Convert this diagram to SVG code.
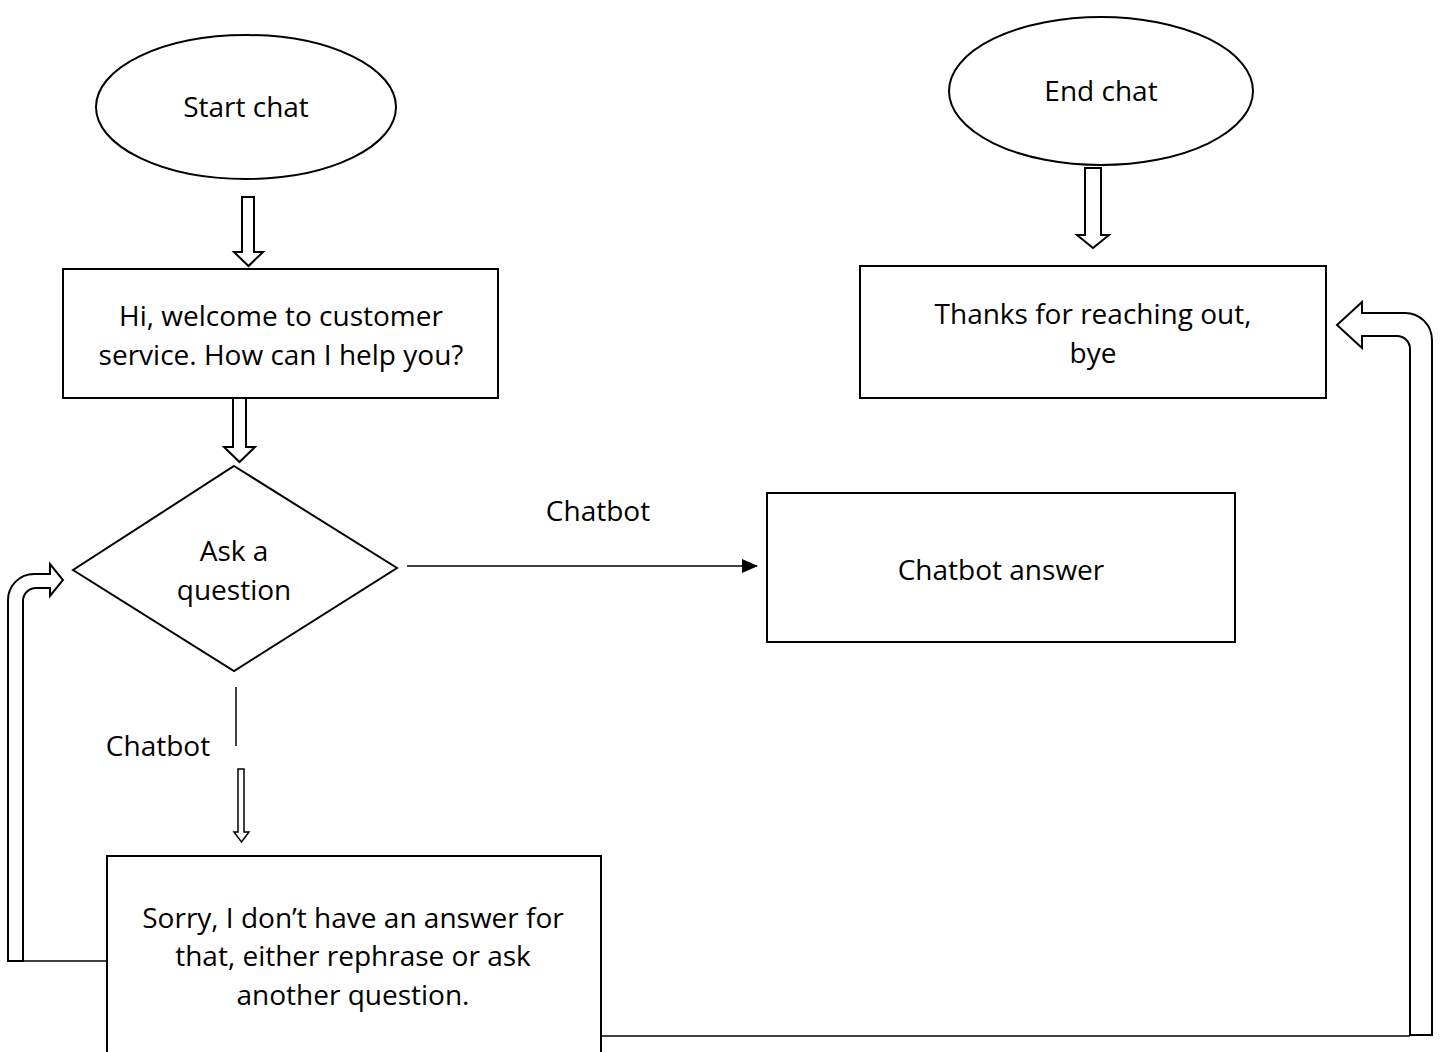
<svg xmlns="http://www.w3.org/2000/svg" width="1441" height="1052" viewBox="0 0 1441 1052">
  <style>
    .shape { fill: #ffffff; stroke: #000000; stroke-width: 2; }
    .block { fill: #ffffff; stroke: #000000; stroke-width: 2; stroke-linejoin: miter; }
    .line { fill: none; stroke: #000000; stroke-width: 1.5; }
    .label { font-family: "Open Sans", "Liberation Sans", sans-serif; font-size: 28px; fill: #000000; text-anchor: middle; }
  </style>
  <defs>
    <marker id="arrowhead" markerWidth="16" markerHeight="14" refX="15" refY="7" orient="auto" markerUnits="userSpaceOnUse">
      <path d="M0,0 L16,7 L0,14 Z" fill="#000000"/>
    </marker>
  </defs>
  <rect width="1441" height="1052" fill="#ffffff"/>

  <g id="start-chat">
    <ellipse class="shape" cx="246" cy="107" rx="150" ry="72"/>
    <text class="label" x="246" y="117">Start chat</text>
  </g>

  <g id="end-chat">
    <ellipse class="shape" cx="1101" cy="91" rx="152" ry="74"/>
    <text class="label" x="1101" y="101">End chat</text>
  </g>

  <g id="welcome">
    <rect class="shape" x="63" y="269" width="435" height="129"/>
    <text class="label" x="281" y="326">Hi, welcome to customer</text>
    <text class="label" x="281" y="365">service. How can I help you?</text>
  </g>

  <g id="thanks">
    <rect class="shape" x="860" y="266" width="466" height="132"/>
    <text class="label" x="1093" y="324">Thanks for reaching out,</text>
    <text class="label" x="1093" y="363">bye</text>
  </g>

  <g id="ask-question">
    <polygon class="shape" points="234,466 397,568 234,671 73,570"/>
    <text class="label" x="234" y="561">Ask a</text>
    <text class="label" x="234" y="600">question</text>
  </g>

  <g id="chatbot-answer">
    <rect class="shape" x="767" y="493" width="468" height="149"/>
    <text class="label" x="1001" y="580">Chatbot answer</text>
  </g>

  <g id="sorry">
    <rect class="shape" x="107" y="856" width="494" height="210"/>
    <text class="label" x="353" y="928">Sorry, I don’t have an answer for</text>
    <text class="label" x="353" y="966">that, either rephrase or ask</text>
    <text class="label" x="353" y="1005">another question.</text>
  </g>

  <g id="connectors">
    <!-- start -> welcome -->
    <polygon class="block" points="242,197 254,197 254,252 263,252 248.5,266 234,252 242,252"/>
    <!-- welcome -> question -->
    <polygon class="block" points="233,398 246,398 246,447 255,447 239.5,462 224,447 233,447"/>
    <!-- end chat -> thanks -->
    <polygon class="block" points="1085,168 1101,168 1101,235 1109,235 1093,248 1077,235 1085,235"/>
    <!-- question -> chatbot answer -->
    <line class="line" x1="407" y1="566" x2="757" y2="566" marker-end="url(#arrowhead)"/>
    <text class="label" x="598" y="521">Chatbot</text>
    <!-- question -> sorry -->
    <line class="line" x1="236" y1="687" x2="236" y2="746"/>
    <text class="label" x="158" y="756">Chatbot</text>
    <polygon class="block" style="stroke-width:1.5" points="238,769 244,769 244,832 249,832 241.5,842 234,832 238,832"/>
    <!-- sorry -> back to question -->
    <line class="line" x1="23" y1="961" x2="107" y2="961"/>
    <path class="block" d="M8,961 L8,600 A26,26 0 0 1 34,574 L50,574 L50,564 L63,580 L50,596 L50,588 L36,588 A13,13 0 0 0 23,601 L23,961 Z"/>
    <!-- sorry -> thanks -->
    <line class="line" x1="601" y1="1036" x2="1410" y2="1036"/>
    <path class="block" d="M1432,1035 L1432,340 A27,27 0 0 0 1405,313 L1362,313 L1362,302 L1337,325 L1362,348 L1362,336 L1397,336 A13,13 0 0 1 1410,349 L1410,1035 Z"/>
  </g>
</svg>
